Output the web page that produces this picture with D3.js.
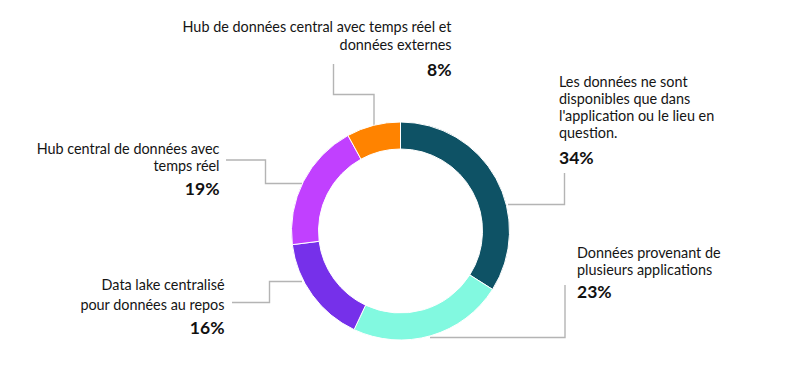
<!DOCTYPE html>
<html>
<head>
<meta charset="utf-8">
<script src="https://cdn.jsdelivr.net/npm/d3@7"></script>
<style>
  html, body { margin: 0; padding: 0; background: #fff; }
  svg { display: block; }
</style>
</head>
<body>
<svg id="chart" width="800" height="372"></svg>
<script>
// ---- data ----
const categories = [
  "Les données ne sont disponibles que dans l'application ou le lieu en question.",
  "Données provenant de plusieurs applications",
  "Data lake centralisé pour données au repos",
  "Hub central de données avec temps réel",
  "Hub de données central avec temps réel et données externes"
];
const values = [34, 23, 16, 19, 8];
const valueLabels = ["34%", "23%", "16%", "19%", "8%"];
const labelLines = [
  ["Les données ne sont", "disponibles que dans", "l'application ou le lieu en", "question."],
  ["Données provenant de", "plusieurs applications"],
  ["Data lake centralisé", "pour données au repos"],
  ["Hub central de données avec", "temps réel"],
  ["Hub de données central avec temps réel et", "données externes"]
];
const colors = ["#0e5265", "#82f9e0", "#7630ea", "#c140ff", "#ff8300"];

// ---- layout (positions only) ----
const cx = 400.5, cy = 231, rOuter = 109, rInner = 82;
const layout = [
  { x: 559, anchor: "start", baselines: [86.5, 103.5, 120.5, 137.5], pctY: 164,
    line: [[564.5, 173], [564.5, 204.5], [508, 204.5]] },
  { x: 577, anchor: "start", baselines: [258, 275], pctY: 298,
    line: [[565, 285], [565, 337.5], [430, 337.5]] },
  { x: 224.5, anchor: "end", baselines: [290, 310], pctY: 334,
    line: [[232, 302.5], [269.5, 302.5], [269.5, 281.5], [302, 281.5]] },
  { x: 219.5, anchor: "end", baselines: [154, 171], pctY: 195,
    line: [[226, 160], [265.5, 160], [265.5, 183.5], [302, 183.5]] },
  { x: 451.5, anchor: "end", baselines: [32, 50], pctY: 76,
    line: [[333.5, 64], [333.5, 94.5], [374, 94.5], [374, 127]] }
];

const svg = d3.select("#chart");

const pie = d3.pie().sort(null).value(d => d)
  .startAngle(0).endAngle(2 * Math.PI);
const arcs = pie(values);
const arc = d3.arc().innerRadius(rInner).outerRadius(rOuter);

// leader lines (under the donut)
const lineGen = d3.line();
svg.append("g").selectAll("path")
  .data(layout)
  .join("path")
  .attr("d", d => lineGen(d.line))
  .attr("fill", "none")
  .attr("stroke", "#b4b4b4")
  .attr("stroke-width", 1.4);

// donut
svg.append("g")
  .attr("transform", `translate(${cx},${cy})`)
  .selectAll("path")
  .data(arcs)
  .join("path")
  .attr("d", arc)
  .attr("fill", (d, i) => colors[i])
  .attr("stroke", "#ffffff")
  .attr("stroke-width", 1);

// labels
const lg = svg.append("g").selectAll("g")
  .data(layout)
  .join("g");

lg.each(function(d, i) {
  const g = d3.select(this);
  labelLines[i].forEach((t, j) => {
    g.append("text")
      .attr("x", d.x)
      .attr("y", d.baselines[j])
      .attr("text-anchor", d.anchor)
      .attr("font-family", "Lato, 'Open Sans', sans-serif")
      .attr("font-size", 14.4)
      .attr("fill", "#151515")
      .text(t);
  });
  g.append("text")
    .attr("x", d.x)
    .attr("y", d.pctY)
    .attr("text-anchor", d.anchor)
    .attr("font-family", "Lato, 'Open Sans', sans-serif")
    .attr("font-weight", 700)
    .attr("font-size", 17.5)
    .attr("fill", "#111")
    .text(valueLabels[i]);
});
</script>
</body>
</html>
